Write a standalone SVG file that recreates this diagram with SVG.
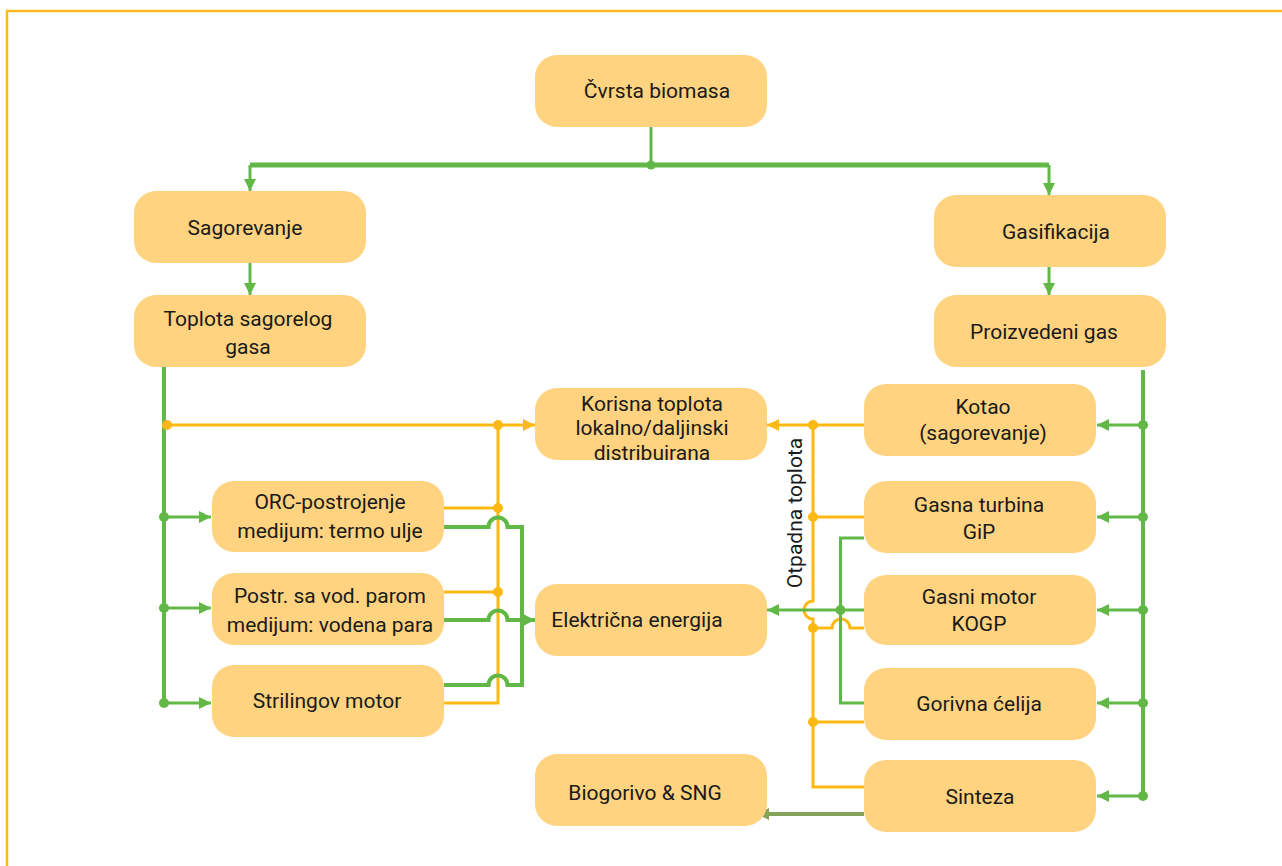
<svg xmlns="http://www.w3.org/2000/svg" width="1282" height="866" viewBox="0 0 1282 866">
<defs>
<style>
.node rect{fill:#FFD37F;}
.node text{font-family:Roboto,"Noto Sans","Liberation Sans",sans-serif;font-size:21px;fill:#1a1a1a;text-anchor:middle;}
.g{stroke:#62B847;fill:none;stroke-width:4;}
.gw{stroke:#62B847;fill:none;stroke-width:5;}
.gt{stroke:#62B847;fill:none;stroke-width:3;}
.o{stroke:#FDB913;fill:none;stroke-width:3;}
.ol{stroke:#84A35A;fill:none;stroke-width:4;}
.gd{fill:#62B847;}
.od{fill:#FDB913;}
.lbl{font-family:Roboto,"Noto Sans","Liberation Sans",sans-serif;font-size:21px;fill:#1a1a1a;text-anchor:middle;}
</style>
<marker id="ag" markerUnits="userSpaceOnUse" markerWidth="13" markerHeight="13" refX="12" refY="6.5" orient="auto"><path d="M0,0.5 L12,6.5 L0,12.5 z" fill="#62B847"/></marker>
<marker id="ao" markerUnits="userSpaceOnUse" markerWidth="13" markerHeight="13" refX="12" refY="6.5" orient="auto"><path d="M0,0.5 L12,6.5 L0,12.5 z" fill="#FDB913"/></marker>
<marker id="aol" markerUnits="userSpaceOnUse" markerWidth="13" markerHeight="13" refX="12" refY="6.5" orient="auto"><path d="M0,0.5 L12,6.5 L0,12.5 z" fill="#84A35A"/></marker>
</defs>
<rect width="1282" height="866" fill="#fff"/>
<path d="M7,866 V11 H1282" fill="none" stroke="#FDBA21" stroke-width="2.5"/>

<g id="connectors">
<path class="gt" d="M651,127 V165"/>
<path class="gw" d="M250,165 H1049"/>
<path class="gt" d="M250,165 V191" marker-end="url(#ag)"/>
<path class="gt" d="M1049,165 V195" marker-end="url(#ag)"/>
<circle class="gd" cx="651" cy="165" r="4.5"/>
<path class="gt" d="M250,263 V295" marker-end="url(#ag)"/>
<path class="gt" d="M1049,267 V295" marker-end="url(#ag)"/>

<path class="g" d="M164,367 V703"/>
<path class="gt" d="M164,517 H211" marker-end="url(#ag)"/>
<path class="gt" d="M164,608 H211" marker-end="url(#ag)"/>
<path class="gt" d="M164,703 H211" marker-end="url(#ag)"/>
<circle class="gd" cx="164" cy="517" r="5"/>
<circle class="gd" cx="164" cy="608" r="5"/>
<circle class="gd" cx="164" cy="703" r="5"/>
<path class="o" d="M166,425 H535" marker-end="url(#ao)"/>
<circle class="od" cx="167" cy="425" r="5"/>
<path class="o" d="M498,425 V703 H444"/>
<path class="o" d="M444,508 H498"/>
<path class="o" d="M444,592 H498"/>
<circle class="od" cx="498" cy="425" r="5"/>
<circle class="od" cx="498" cy="508" r="5"/>
<circle class="od" cx="498" cy="592" r="5"/>
<path class="g" d="M444,527 H488.5 A9.5,9.5 0 0 1 507.5,527 H522 V685 H507.5 A9.5,9.5 0 0 0 488.5,685 H444"/>
<path class="g" d="M444,620 H488.5 A9.5,9.5 0 0 1 507.5,620 H535" marker-end="url(#ag)"/>

<path class="g" d="M1143,370 V797"/>
<path class="gt" d="M1143,425 H1097" marker-end="url(#ag)"/>
<path class="gt" d="M1143,517 H1097" marker-end="url(#ag)"/>
<path class="gt" d="M1143,610 H1097" marker-end="url(#ag)"/>
<path class="gt" d="M1143,703 H1097" marker-end="url(#ag)"/>
<path class="gt" d="M1143,796 H1097" marker-end="url(#ag)"/>
<circle class="gd" cx="1143" cy="425" r="5"/>
<circle class="gd" cx="1143" cy="517" r="5"/>
<circle class="gd" cx="1143" cy="610" r="5"/>
<circle class="gd" cx="1143" cy="703" r="5"/>
<circle class="gd" cx="1143" cy="796" r="5"/>

<path class="o" d="M864,425 H767" marker-end="url(#ao)"/>
<path class="o" d="M813,425 V601 A9,9 0 0 0 813,619 V787 H864"/>
<path class="o" d="M864,517 H813"/>
<path class="o" d="M864,722 H813"/>
<path class="o" d="M864,628 H850 A9,9 0 0 0 832,628 H813"/>
<circle class="od" cx="813" cy="425" r="5"/>
<circle class="od" cx="813" cy="517" r="5"/>
<circle class="od" cx="813" cy="628" r="5"/>
<circle class="od" cx="813" cy="722" r="5"/>
<path class="gt" d="M864,538 H840.5 V703 H864"/>
<path class="gt" d="M864,610 H767" marker-end="url(#ag)"/>
<circle class="gd" cx="840.5" cy="610" r="5"/>
<path class="ol" d="M864,814 H757" marker-end="url(#aol)"/>
<text class="lbl" transform="translate(802,513) rotate(-90)">Otpadna toplota</text>
</g>

<g id="n-cvrsta" class="node"><rect x="535" y="55" width="232" height="72" rx="22"/><text x="657" y="98">Čvrsta biomasa</text></g>
<g id="n-sagorevanje" class="node"><rect x="134" y="191" width="232" height="72" rx="22"/><text x="245" y="235">Sagorevanje</text></g>
<g id="n-gasifikacija" class="node"><rect x="934" y="195" width="232" height="72" rx="22"/><text x="1056" y="239">Gasifikacija</text></g>
<g id="n-toplota" class="node"><rect x="134" y="295" width="232" height="72" rx="22"/><text x="248" y="326">Toplota sagorelog</text><text x="248" y="354">gasa</text></g>
<g id="n-gas" class="node"><rect x="934" y="295" width="232" height="72" rx="22"/><text x="1044" y="339">Proizvedeni gas</text></g>
<g id="n-korisna" class="node"><rect x="535" y="388" width="232" height="72" rx="22"/><text x="652" y="410.5">Korisna toplota</text><text x="652" y="435">lokalno/daljinski</text><text x="652" y="459.5">distribuirana</text></g>
<g id="n-orc" class="node"><rect x="212" y="481" width="232" height="71" rx="22"/><text x="330" y="509">ORC-postrojenje</text><text x="330" y="538">medijum: termo ulje</text></g>
<g id="n-postr" class="node"><rect x="212" y="573" width="232" height="72" rx="22"/><text x="330" y="603">Postr. sa vod. parom</text><text x="330" y="632">medijum: vodena para</text></g>
<g id="n-stirling" class="node"><rect x="212" y="665" width="232" height="72" rx="22"/><text x="327" y="708">Strilingov motor</text></g>
<g id="n-elektricna" class="node"><rect x="535" y="584" width="232" height="72" rx="22"/><text x="637" y="627">Električna energija</text></g>
<g id="n-biogorivo" class="node"><rect x="535" y="754" width="232" height="72" rx="22"/><text x="645" y="800">Biogorivo &amp; SNG</text></g>
<g id="n-kotao" class="node"><rect x="864" y="384" width="232" height="72" rx="22"/><text x="983" y="414">Kotao</text><text x="983" y="440">(sagorevanje)</text></g>
<g id="n-turbina" class="node"><rect x="864" y="481" width="232" height="72" rx="22"/><text x="979" y="512">Gasna turbina</text><text x="979" y="539">GiP</text></g>
<g id="n-motor" class="node"><rect x="864" y="575" width="232" height="70" rx="22"/><text x="979" y="604">Gasni motor</text><text x="979" y="631">KOGP</text></g>
<g id="n-celija" class="node"><rect x="864" y="668" width="232" height="72" rx="22"/><text x="979" y="711">Gorivna ćelija</text></g>
<g id="n-sinteza" class="node"><rect x="864" y="760" width="232" height="72" rx="22"/><text x="980" y="804">Sinteza</text></g>
</svg>
